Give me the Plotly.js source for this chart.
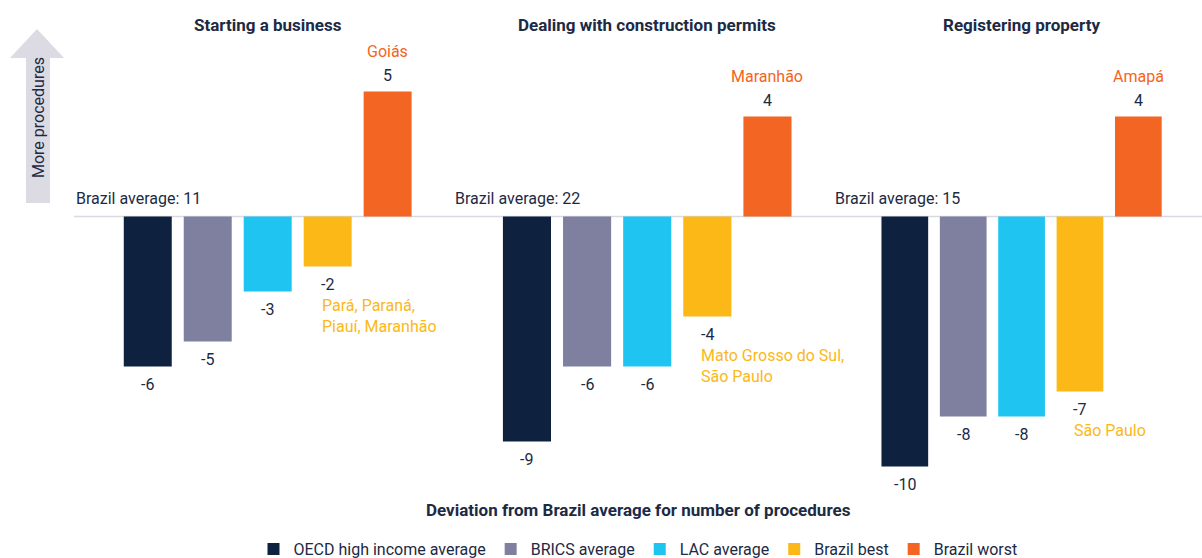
<!DOCTYPE html>
<html>
<head>
<meta charset="utf-8">
<script src="https://cdn.plot.ly/plotly-3.0.1.min.js"></script>
<style>html,body{margin:0;padding:0;background:#fff;}#chart{width:1202px;height:558px;}</style>
</head>
<body>
<div id="chart"></div>
<script>
// ---- data ----
const panels = ["Starting a business", "Dealing with construction permits", "Registering property"];
const brazilAverage = [11, 22, 15];
const seriesNames = ["OECD high income average", "BRICS average", "LAC average", "Brazil best", "Brazil worst"];
const oecd = [-6, -9, -10];
const brics = [-5, -6, -8];
const lac = [-3, -6, -8];
const best = [-2, -4, -7];
const worst = [5, 4, 4];
const bestNames = ["Pará, Paraná,<br>Piauí, Maranhão", "Mato Grosso do Sul,<br>São Paulo", "São Paulo"];
const worstNames = ["Goiás", "Maranhão", "Amapá"];
const seriesColors = ["#0e223f", "#7f7fa0", "#1fc4f0", "#fbb817", "#f26522"];

// ---- layout helpers ----
const W = 1202, H = 558, ML = 74, MR = 0, MT = 55, MB = 69;
const PW = W - ML - MR, PH = H - MT - MB;
const px = v => (v - ML) / PW;
const py = v => (H - MB - v) / PH;
const FONT = "Roboto, 'Noto Sans', sans-serif";
const DARK = "#1c2a44";

const seriesValues = [oecd, brics, lac, best, worst];
const axisNames = ["x", "x2", "x3"];
const traces = [];
seriesNames.forEach((name, s) => {
  panels.forEach((p, i) => {
    traces.push({
      type: "bar",
      x: [name],
      y: [seriesValues[s][i]],
      name: name,
      legendgroup: name,
      showlegend: i === 0,
      xaxis: axisNames[i],
      yaxis: "y",
      width: 0.8,
      marker: {color: seriesColors[s], line: {width: 0}},
      hoverinfo: "skip"
    });
  });
});

const annotations = [];
const panelEdges = [74, 453, 833, 1202];
const xRange = [-1.23, 5.09];
panels.forEach((p, i) => {
  const xr = axisNames[i];
  annotations.push({xref: xr, yref: "paper", x: seriesNames[2], y: py(25), text: "<b>" + p + "</b>",
    showarrow: false, xanchor: "center", yanchor: "middle", font: {family: FONT, size: 17, color: DARK}});
  annotations.push({xref: xr, yref: "y", x: xRange[0], y: 0, text: "Brazil average: " + brazilAverage[i],
    showarrow: false, xanchor: "left", yanchor: "bottom", yshift: 7, font: {family: FONT, size: 16, color: DARK}});
  seriesNames.forEach((name, s) => {
    const v = seriesValues[s][i];
    annotations.push({xref: xr, yref: "y", x: name, y: v, text: String(v), showarrow: false,
      xanchor: "center", yanchor: v < 0 ? "top" : "bottom", yshift: v < 0 ? -6 : 5,
      font: {family: FONT, size: 16, color: DARK}});
  });
  annotations.push({xref: xr, yref: "y", x: seriesNames[3], y: best[i], text: bestNames[i], showarrow: false,
    xanchor: "left", yanchor: "top", align: "left", xshift: -8, yshift: -27,
    font: {family: FONT, size: 16, color: seriesColors[3]}});
  annotations.push({xref: xr, yref: "y", x: seriesNames[4], y: worst[i], text: worstNames[i], showarrow: false,
    xanchor: "center", yanchor: "bottom", yshift: 29,
    font: {family: FONT, size: 16, color: seriesColors[4]}});
});
annotations.push({xref: "paper", yref: "paper", x: 0.5, y: py(510), text: "<b>Deviation from Brazil average for number of procedures</b>",
  showarrow: false, xanchor: "center", yanchor: "middle", font: {family: FONT, size: 17, color: DARK}});
annotations.push({xref: "paper", yref: "paper", x: px(38), y: py(118), text: "More procedures", textangle: -90,
  showarrow: false, xanchor: "center", yanchor: "middle", font: {family: FONT, size: 16, color: DARK}});

const arrowPath = "M" + px(26) + "," + py(203) + " L" + px(26) + "," + py(58) + " L" + px(10) + "," + py(58) +
  " L" + px(37) + "," + py(29) + " L" + px(64) + "," + py(58) + " L" + px(50) + "," + py(58) +
  " L" + px(50) + "," + py(203) + " Z";

const layout = {
  width: W, height: H,
  margin: {l: ML, r: MR, t: MT, b: MB, pad: 0, autoexpand: false},
  paper_bgcolor: "#fff", plot_bgcolor: "rgba(0,0,0,0)",
  barmode: "relative",
  font: {family: FONT, size: 16, color: DARK},
  showlegend: true,
  legend: {orientation: "h", x: 0.5, xanchor: "center", y: py(549), yanchor: "middle",
    font: {family: FONT, size: 16, color: DARK}, itemclick: false, itemdoubleclick: false,
    traceorder: "normal", itemwidth: 30},
  yaxis: {range: [-10.9, 6.46], visible: false, domain: [0, 1], fixedrange: true},
  shapes: [
    {type: "line", xref: "paper", yref: "y", x0: 0, x1: 1, y0: 0, y1: 0, line: {color: "#d9d9e3", width: 1.5}, layer: "below"},
    {type: "path", xref: "paper", yref: "paper", path: arrowPath, fillcolor: "#dcdbe4", line: {width: 0}, layer: "below"}
  ],
  annotations: annotations
};
axisNames.forEach((a, i) => {
  const key = i === 0 ? "xaxis" : "xaxis" + (i + 1);
  layout[key] = {
    type: "category", categoryorder: "array", categoryarray: seriesNames,
    range: xRange, domain: [px(panelEdges[i]), px(panelEdges[i + 1])],
    anchor: "y", visible: false, fixedrange: true
  };
});

Plotly.newPlot("chart", traces, layout, {displayModeBar: false, staticPlot: true});
</script>
</body>
</html>
